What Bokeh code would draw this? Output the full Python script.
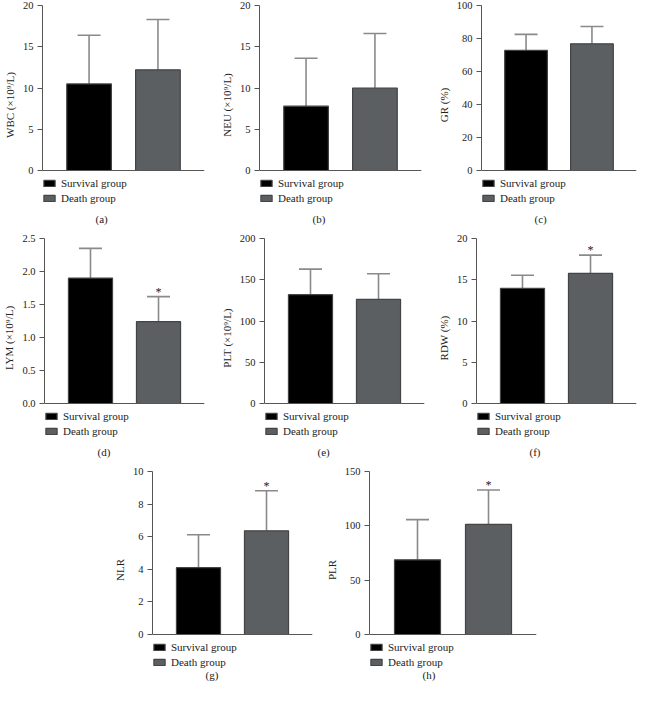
from bokeh.plotting import figure
from bokeh.models import (ColumnDataSource, FactorRange, Range1d, FixedTicker, Whisker, TeeHead,
                          Legend, LegendItem, Span, Spacer)
from bokeh.layouts import column, row
from bokeh.core.properties import value
from bokeh.embed import file_html
from bokeh.resources import INLINE

groups = ["Survival group", "Death group"]
bar_colors = ["#000000", "#5b5f62"]

wbc_mean = [10.5, 12.2]
wbc_sd = [5.9, 6.1]
neu_mean = [7.8, 10.0]
neu_sd = [5.8, 6.6]
gr_mean = [72.8, 76.8]
gr_sd = [9.7, 10.5]
lym_mean = [1.90, 1.24]
lym_sd = [0.45, 0.38]
plt_mean = [131.9, 126.3]
plt_sd = [31.0, 31.0]
rdw_mean = [13.95, 15.78]
rdw_sd = [1.6, 2.2]
nlr_mean = [4.10, 6.36]
nlr_sd = [2.02, 2.46]
plr_mean = [68.7, 101.3]
plr_sd = [37.0, 31.7]

wbc_stars = ["", ""]
neu_stars = ["", ""]
gr_stars = ["", ""]
lym_stars = ["", "*"]
plt_stars = ["", ""]
rdw_stars = ["", "*"]
nlr_stars = ["", "*"]
plr_stars = ["", "*"]

wbc_ticks = [0, 5, 10, 15, 20]
neu_ticks = [0, 5, 10, 15, 20]
gr_ticks = [0, 20, 40, 60, 80, 100]
lym_ticks = [0.0, 0.5, 1.0, 1.5, 2.0, 2.5]
lym_tick_labels = ["0.0", "0.5", "1.0", "1.5", "2.0", "2.5"]
plt_ticks = [0, 50, 100, 150, 200]
rdw_ticks = [0, 5, 10, 15, 20]
nlr_ticks = [0, 2, 4, 6, 8, 10]
plr_ticks = [0, 50, 100, 150]

SERIF = "Liberation Serif"
AXIS_COLOR = "#555555"
TEXT_COLOR = "#222222"

LEG_H = 34        # pixel height reserved under zero for the legend


def panel(mean, sd, stars, ticks, ylabel, caption, width, left, right, data_h, bottom,
          cap_standoff, tick_labels=None):
    upper = [m + s for m, s in zip(mean, sd)]
    src = ColumnDataSource(dict(group=groups, mean=mean, upper=upper, color=bar_colors, star=stars))
    ymax = ticks[-1]
    ymin = -(ymax - ticks[0]) * LEG_H / data_h
    height = 5 + data_h + LEG_H + bottom
    p = figure(x_range=FactorRange(*groups, range_padding=0.176),
               y_range=Range1d(ymin, ymax), x_axis_location=None,
               width=width, height=height, output_backend="svg", toolbar_location=None,
               min_border_left=left, min_border_right=right, min_border_top=5,
               min_border_bottom=bottom, title=caption, title_location="below")
    p.outline_line_color = None
    p.grid.visible = False
    r = p.vbar(x="group", top="mean", width=0.648, source=src, fill_color="color",
               line_color="#444444", line_width=1.2)
    w = Whisker(base="group", upper="upper", lower="mean", source=src, dimension="height",
                line_color="#8a8a8a", line_width=1.6,
                upper_head=TeeHead(size=23, line_color="#8a8a8a", line_width=1.6),
                lower_head=None)
    p.add_layout(w)
    p.text(x="group", y="upper", text="star", source=src, text_align="center",
           text_baseline="alphabetic", y_offset=-5, text_font=value(SERIF),
           text_font_size="12px", text_color=TEXT_COLOR)
    p.add_layout(Span(location=ticks[0], dimension="width", line_color=AXIS_COLOR, line_width=1))

    ya = p.yaxis[0]
    ya.ticker = FixedTicker(ticks=ticks)
    ya.bounds = (ticks[0], ymax)
    if tick_labels:
        ya.major_label_overrides = {t: l for t, l in zip(ticks, tick_labels)}
    ya.minor_tick_line_color = None
    ya.major_tick_out = 5
    ya.major_tick_in = 0
    ya.major_label_standoff = 4
    ya.axis_line_color = AXIS_COLOR
    ya.major_tick_line_color = AXIS_COLOR
    ya.major_label_text_font = SERIF
    ya.major_label_text_font_size = "10.5px"
    ya.major_label_text_color = TEXT_COLOR
    ya.axis_label = ylabel
    ya.axis_label_text_font = SERIF
    ya.axis_label_text_font_size = "11px"
    ya.axis_label_text_font_style = "normal"
    ya.axis_label_text_color = TEXT_COLOR
    ya.axis_label_standoff = 4

    items = [LegendItem(label=g, renderers=[r], index=i) for i, g in enumerate(groups)]
    lg = Legend(items=items, location="bottom_left", orientation="vertical",
                glyph_width=14, glyph_height=8, label_height=11, spacing=3,
                label_standoff=5, padding=0, margin=0, border_line_color=None,
                background_fill_alpha=0, label_text_font=SERIF, label_text_font_size="11px",
                label_text_color=TEXT_COLOR)
    p.add_layout(lg)

    t = p.title
    t.align = "left"
    t.offset = 53
    t.standoff = cap_standoff
    t.text_font = SERIF
    t.text_font_size = "11px"
    t.text_font_style = "normal"
    t.text_color = TEXT_COLOR
    return p


pa = panel(wbc_mean, wbc_sd, wbc_stars, wbc_ticks, "WBC (×10⁹/L)", "(a)", 217, 40, 13, 165, 29, 13)
pb = panel(neu_mean, neu_sd, neu_stars, neu_ticks, "NEU (×10⁹/L)", "(b)", 217, 40, 13, 165, 29, 13)
pc = panel(gr_mean, gr_sd, gr_stars, gr_ticks, "GR (%)", "(c)", 203, 40, 1, 165, 29, 13)
pd_ = panel(lym_mean, lym_sd, lym_stars, lym_ticks, "LYM (×10⁹/L)", "(d)", 217, 40, 13, 165, 29, 13,
            tick_labels=lym_tick_labels)
pe = panel(plt_mean, plt_sd, plt_stars, plt_ticks, "PLT (×10⁹/L)", "(e)", 217, 43, 10, 165, 29, 13)
pf = panel(rdw_mean, rdw_sd, rdw_stars, rdw_ticks, "RDW (%)", "(f)", 203, 42, 1, 165, 29, 13)
pg = panel(nlr_mean, nlr_sd, nlr_stars, nlr_ticks, "NLR", "(g)", 212, 40, 10, 163, 16, -4)
ph = panel(plr_mean, plr_sd, plr_stars, plr_ticks, "PLR", "(h)", 215, 40, 1, 163, 16, -4)

layout = column(row(pa, pb, pc), row(pd_, pe, pf), row(Spacer(width=110, height=10), pg, ph))

open("out.html", "w").write(file_html(layout, INLINE))
